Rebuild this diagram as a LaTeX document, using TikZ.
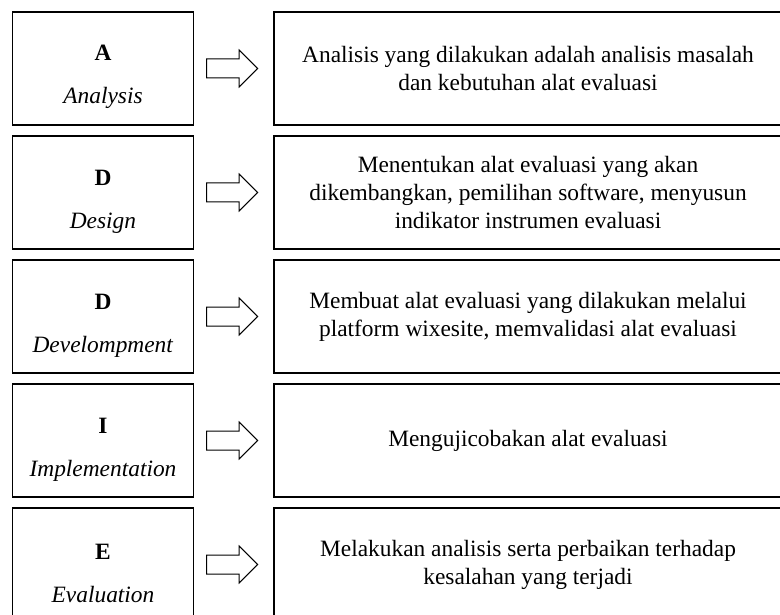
\documentclass[tikz,border=0pt]{standalone}
\usepackage{fontspec}
\setmainfont{Liberation Serif}
\usetikzlibrary{shapes,arrows,calc,positioning}
\tikzset{
        phase/.style = {draw, rectangle, line width=1.2pt,
            minimum height=113pt,
            minimum width=181pt,
            align=center, inner sep=0pt,
            font=\fontsize{23.4}{43}\selectfont},
        desc/.style = {draw, rectangle, line width=1.2pt,
            minimum height=113pt,
            minimum width=508pt,
            align=center, inner sep=0pt,
            font=\fontsize{23.4}{28}\selectfont},
        blockarrow/.style = {draw, single arrow, line width=1pt,
            minimum height=51pt, text height=18pt, text depth=0pt,
            single arrow head extend=9pt, inner sep=0pt, anchor=tip},
    }
\newcommand{\phaselabel}[2]{\rule{0pt}{33pt}\textbf{#1}\\\textit{#2}}

\begin{document}
\begin{tikzpicture}[x=1pt,y=-1pt]
    \useasboundingbox (0,0) rectangle (780,615);
    \clip (0,0) rectangle (780,615);
    \node[phase] (pA) at (103,68.5) {\phaselabel{A}{Analysis}};
    \node[phase, below=9.8pt of pA] (pD1) {\phaselabel{D}{Design}};
    \node[phase, below=9.8pt of pD1] (pD2) {\phaselabel{D}{Develompment}};
    \node[phase, below=9.8pt of pD2] (pI) {\phaselabel{I}{Implementation}};
    \node[phase, below=9.8pt of pI] (pE) {\phaselabel{E}{Evaluation}};

    \node[desc] (dA) at (528,68.5) {Analisis yang dilakukan adalah analisis masalah\\dan kebutuhan alat evaluasi};
    \node[desc, below=9.8pt of dA] (dD1) {Menentukan alat evaluasi yang akan\\dikembangkan, pemilihan software, menyusun\\indikator instrumen evaluasi};
    \node[desc, below=9.8pt of dD1] (dD2) {Membuat alat evaluasi yang dilakukan melalui\\platform wixesite, memvalidasi alat evaluasi};
    \node[desc, below=9.8pt of dD2] (dI) {Mengujicobakan alat evaluasi};
    \node[desc, below=9.8pt of dI] (dE) {Melakukan analisis serta perbaikan terhadap\\kesalahan yang terjadi};

    % arrows between the two columns, tip 15pt short of the right box
    \node[blockarrow] (aA) at ($(dA.west)+(-15,0)$) {};
    \node[blockarrow] (aD1) at ($(dD1.west)+(-15,0)$) {};
    \node[blockarrow] (aD2) at ($(dD2.west)+(-15,0)$) {};
    \node[blockarrow] (aI) at ($(dI.west)+(-15,0)$) {};
    \node[blockarrow] (aE) at ($(dE.west)+(-15,0)$) {};
\end{tikzpicture}
\end{document}
